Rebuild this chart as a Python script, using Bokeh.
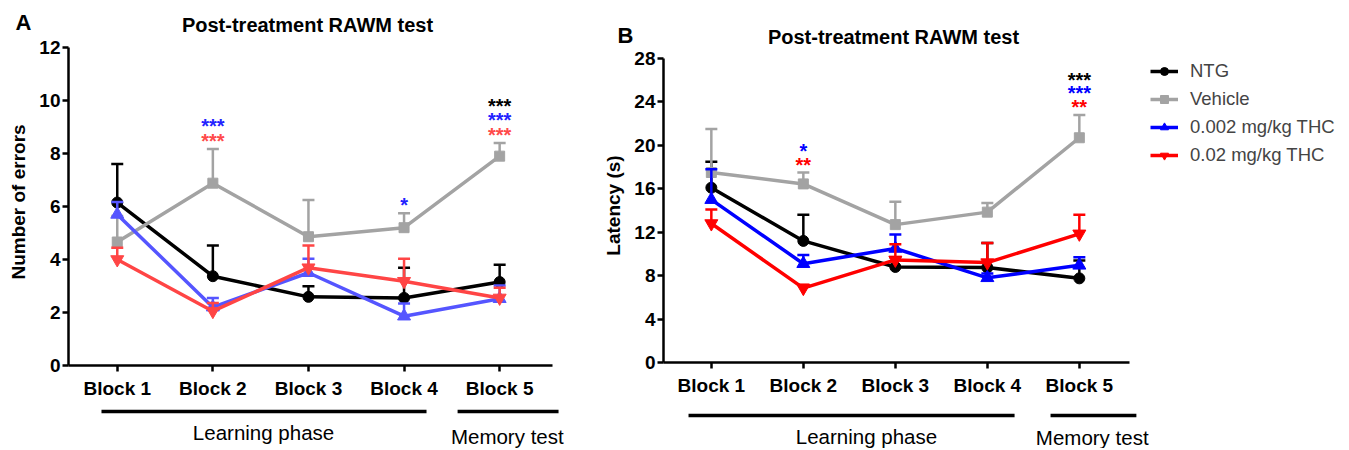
from bokeh.plotting import figure
from bokeh.models import Range1d, FixedTicker, Legend, LegendItem, ColumnDataSource
from bokeh.layouts import row, column
from bokeh.embed import file_html
from bokeh.resources import INLINE
from bokeh.core.properties import value

# ---------------- data ----------------
blocks = [1, 2, 3, 4, 5]
block_labels = ["Block 1", "Block 2", "Block 3", "Block 4", "Block 5"]
groups = ["NTG", "Vehicle", "0.002 mg/kg THC", "0.02 mg/kg THC"]

# Panel A: number of errors (mean, SEM)
err_ntg = [6.15, 3.37, 2.59, 2.55, 3.15]
err_ntg_sem = [1.45, 1.16, 0.40, 1.14, 0.65]
err_veh = [4.66, 6.88, 4.86, 5.20, 7.90]
err_veh_sem = [0.98, 1.29, 1.39, 0.55, 0.50]
err_lo = [5.70, 2.20, 3.50, 1.86, 2.52]
err_lo_sem = [0.47, 0.35, 0.53, 0.48, 0.50]
err_hi = [4.00, 2.05, 3.69, 3.18, 2.55]
err_hi_sem = [0.44, 0.31, 0.84, 0.85, 0.38]

# Panel B: latency in s (mean, SEM)
lat_ntg = [16.1, 11.2, 8.8, 8.75, 7.75]
lat_ntg_sem = [2.4, 2.4, 0.9, 2.25, 1.65]
lat_veh = [17.5, 16.45, 12.7, 13.85, 20.7]
lat_veh_sem = [4.0, 1.05, 2.1, 0.85, 2.1]
lat_lo = [15.0, 9.1, 10.5, 7.8, 8.95]
lat_lo_sem = [2.8, 0.8, 1.3, 0.4, 0.75]
lat_hi = [12.8, 6.85, 9.45, 9.2, 11.85]
lat_hi_sem = [1.3, 0.3, 1.45, 1.8, 1.75]

# significance marks (vs Vehicle), stacked above the Vehicle error bar
sigA_block = [2, 2, 4, 5, 5, 5]
sigA_text = ["***", "***", "*", "***", "***", "***"]
sigA_group = [3, 2, 2, 3, 2, 0]   # index in groups
sigA_rank = [0, 1, 0, 0, 1, 2]
sigB_block = [2, 2, 5, 5, 5]
sigB_text = ["**", "*", "**", "***", "***"]
sigB_group = [3, 2, 3, 2, 0]
sigB_rank = [0, 1, 0, 1, 2]

phase_names = ["Learning phase", "Memory test"]
panel_title = "Post-treatment RAWM test"

FONT = "Liberation Sans"
colorsA = ["#000000", "#a3a3a3", "#5555ff", "#ff4545"]
colorsB = ["#000000", "#a3a3a3", "#0000ff", "#ff0000"]
starA = ["#000000", "#a3a3a3", "#2222ff", "#ff4a4a"]
markers = ["circle", "square", "triangle", "inverted_triangle"]
msizes = [11, 10, 13, 13]


def make_header(width, height, letter, letter_x, letter_y, title_x, title_y):
    h = figure(width=width, height=height, x_range=Range1d(0, width),
               y_range=Range1d(height, 0), output_backend="svg", toolbar_location=None,
               x_axis_type=None, y_axis_type=None,
               min_border_left=0, min_border_right=0, min_border_top=0, min_border_bottom=0)
    h.frame_align = False
    h.outline_line_color = None
    h.xgrid.visible = False
    h.ygrid.visible = False
    h.text(x=[letter_x], y=[letter_y], text=[letter], text_align="left",
           text_baseline="middle", text_font=value(FONT), text_font_style="bold",
           text_font_size="22px", text_color="black")
    h.text(x=[title_x], y=[title_y], text=[panel_title], text_align="center",
           text_baseline="middle", text_font=value(FONT), text_font_style="bold",
           text_font_size="20px", text_color="black")
    return h


def make_panel(means, sems, colors, starcols, ymax_tick, ystep, px_per_y, frame_h,
               px_per_x, x0, frame_w, left_border, width, ylabel,
               sig_block, sig_text, sig_group, sig_rank, star_step, legend=False):
    p = figure(width=width, height=frame_h + 40,
               x_range=Range1d(x0, x0 + frame_w / px_per_x),
               y_range=Range1d(0, frame_h / px_per_y),
               output_backend="svg", toolbar_location=None,
               min_border_left=left_border, min_border_right=0,
               min_border_top=0, min_border_bottom=40)
    p.outline_line_color = None
    p.xgrid.visible = False
    p.ygrid.visible = False
    p.background_fill_color = "white"
    p.border_fill_color = "white"

    p.xaxis.ticker = FixedTicker(ticks=blocks)
    p.xaxis.major_label_overrides = {b: l for b, l in zip(blocks, block_labels)}
    p.xaxis.bounds = (x0, 5.55)
    p.yaxis.ticker = FixedTicker(ticks=list(range(0, ymax_tick + 1, ystep)))
    p.yaxis.bounds = (0, ymax_tick)
    p.yaxis.axis_label = ylabel
    for ax in (p.xaxis, p.yaxis):
        ax.axis_line_width = 2.5
        ax.axis_line_color = "black"
        ax.major_tick_line_width = 2.5
        ax.major_tick_line_color = "black"
        ax.major_tick_out = 6
        ax.major_tick_in = 0
        ax.minor_tick_line_color = None
        ax.major_label_text_font = FONT
        ax.major_label_text_font_style = "bold"
        ax.major_label_text_font_size = "19px"
        ax.major_label_text_color = "black"
        ax.axis_label_text_font = FONT
        ax.axis_label_text_font_style = "bold"
        ax.axis_label_text_font_size = "19px"
        ax.axis_label_text_color = "black"
    p.yaxis.major_label_standoff = 2
    p.yaxis.axis_label_standoff = 7
    p.xaxis.major_label_standoff = 6

    items = []
    for gi, (m, s) in enumerate(zip(means, sems)):
        c = colors[gi]
        top = [a + b for a, b in zip(m, s)]
        src = ColumnDataSource(dict(x=blocks, y=m, top=top))
        p.segment(x0="x", y0="y", x1="x", y1="top", source=src, line_color=c, line_width=2.5)
        p.scatter(x="x", y="top", source=src, marker="dash", size=12,
                  line_color=c, line_width=2.5)
        ln = p.line(x="x", y="y", source=src, line_color=c, line_width=3.5)
        sc = p.scatter(x="x", y="y", source=src, marker=markers[gi], size=msizes[gi],
                       fill_color=c, line_color=c)
        items.append(LegendItem(label=groups[gi], renderers=[ln, sc]))

    veh_top = [a + b for a, b in zip(means[1], sems[1])]
    for b, t, g, r in zip(sig_block, sig_text, sig_group, sig_rank):
        p.text(x=[b], y=[veh_top[b - 1]], text=[t], text_align="center",
               text_baseline="middle", y_offset=-(8 + star_step * r),
               text_font=value(FONT), text_font_style="bold", text_font_size="20px",
               text_color=starcols[g])

    if legend:
        lg = Legend(items=items, location=(487, 196), padding=0, margin=0, spacing=6,
                    glyph_width=28, glyph_height=20, label_height=20, label_standoff=12,
                    label_text_font=FONT, label_text_font_size="18.5px",
                    background_fill_alpha=0, border_line_alpha=0)
        p.add_layout(lg)
    return p


def make_phase(main, width, height, left_border, spans, line_y, text_y, text_x):
    q = figure(width=width, height=height, x_range=main.x_range,
               y_range=Range1d(height, 0), output_backend="svg", toolbar_location=None,
               x_axis_type=None, y_axis_type=None,
               min_border_left=left_border, min_border_right=0,
               min_border_top=0, min_border_bottom=0)
    q.outline_line_color = None
    q.xgrid.visible = False
    q.ygrid.visible = False
    for (a, b) in spans:
        q.line(x=[a, b], y=[line_y, line_y], line_color="black", line_width=3.5)
    q.text(x=text_x, y=text_y, text=phase_names, text_align="center",
           text_baseline="middle", text_font=value(FONT), text_font_size="20.5px",
           text_color="black")
    return q


# Panel A (page x 0..600)
hA = make_header(600, 38, "A", 15, 22, 307, 24)
pA = make_panel([err_ntg, err_veh, err_lo, err_hi],
                [err_ntg_sem, err_veh_sem, err_lo_sem, err_hi_sem],
                colorsA, starA, 12, 2, 26.5, 327, 95.6, 0.49, 532, 68, 600,
                "Number of errors",
                sigA_block, sigA_text, sigA_group, sigA_rank, 14.5)
qA = make_phase(pA, 600, 43, 68, [(0.835, 4.235), (4.56, 5.616)], 6, [27, 31], [2.53, 5.08])

# Panel B (page x 600..1341)
hB = make_header(741, 48, "B", 17, 35, 293, 36)
pB = make_panel([lat_ntg, lat_veh, lat_lo, lat_hi],
                [lat_ntg_sem, lat_veh_sem, lat_lo_sem, lat_hi_sem],
                colorsB, colorsB, 28, 4, 10.857, 314, 92.0, 0.48, 678, 63, 741,
                "Latency (s)",
                sigB_block, sigB_text, sigB_group, sigB_rank, 13.5, legend=True)
qB = make_phase(pB, 741, 46, 63, [(0.752, 4.296), (4.687, 5.62)], 13, [34, 35], [2.686, 5.14])

layout = row(column(hA, pA, qA), column(hB, pB, qB))
open("out.html", "w").write(file_html(layout, INLINE))
